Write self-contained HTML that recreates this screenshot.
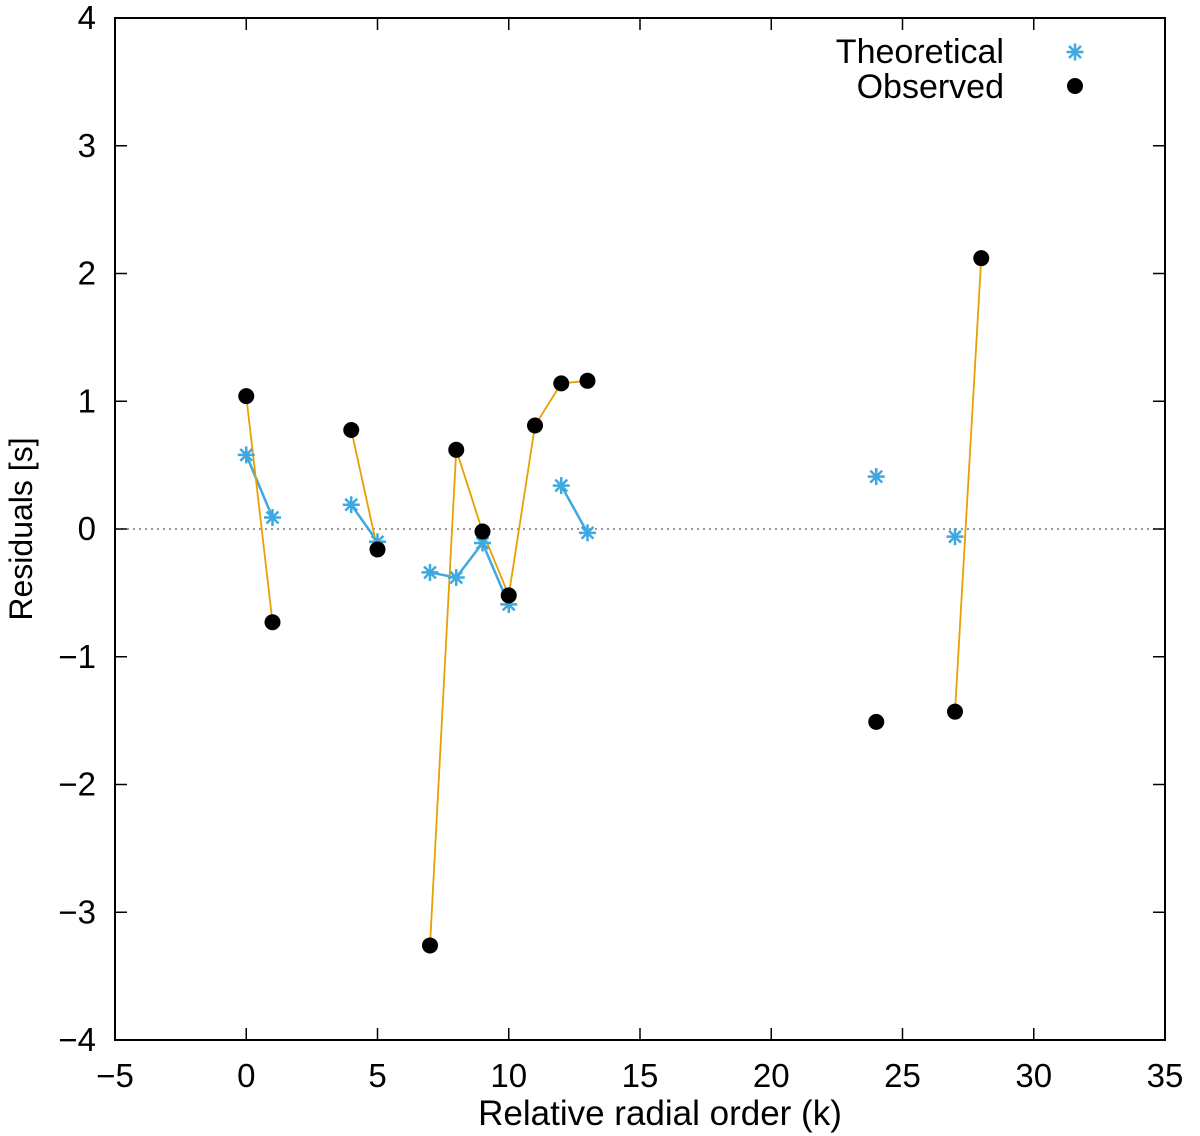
<!DOCTYPE html>
<html><head><meta charset="utf-8"><style>
html,body{margin:0;padding:0;background:#fff}
svg{display:block;font-family:"Liberation Sans",sans-serif}
</style></head><body>
<svg id="chart" width="1200" height="1136" viewBox="0 0 1200 1136" xmlns="http://www.w3.org/2000/svg"></svg>
<script>
const xTicks=[-5,0,5,10,15,20,25,30,35];
const yTicks=[-4,-3,-2,-1,0,1,2,3,4];
const yTickLabels=["\u22124","\u22123","\u22122","\u22121","0","1","2","3","4"];
const xTickLabels=["\u22125","0","5","10","15","20","25","30","35"];
const obsK=[0,1,null,4,5,null,7,8,9,10,11,12,13,null,24,null,27,28];
const obsY=[1.04,-0.73,null,0.775,-0.16,null,-3.26,0.62,-0.02,-0.52,0.81,1.14,1.16,null,-1.51,null,-1.43,2.12];
const theoK=[0,1,null,4,5,null,7,8,9,10,null,12,13,null,24,null,27];
const theoY=[0.58,0.09,null,0.19,-0.1,null,-0.34,-0.38,-0.11,-0.59,null,0.34,-0.03,null,0.41,null,-0.06];

const L=115,R=1165,T=18,B=1040;
const sx=v=>L+(v+5)/40*(R-L);
const sy=v=>B-(v+4)/8*(B-T);
const svg=document.getElementById('chart');
const NS='http://www.w3.org/2000/svg';
function mk(tag,attrs,parent){const e=document.createElementNS(NS,tag);for(const k in attrs)e.setAttribute(k,attrs[k]);(parent||svg).appendChild(e);return e;}

let z=mk('line',{x1:L,x2:R,y1:sy(0),y2:sy(0),stroke:'#777','stroke-width':1.5,'stroke-dasharray':'2,4'});



xTicks.forEach((t,i)=>{
  const x=sx(t);
  const g=mk('g',{});
  
  
  mk('line',{x1:x,x2:x,y1:B,y2:B-12,stroke:'#000','stroke-width':1.5},g);
  mk('line',{x1:x,x2:x,y1:T,y2:T+12,stroke:'#000','stroke-width':1.5},g);
  const tx=mk('text',{x:x,y:1087,'font-size':33,'text-anchor':'middle'},g);tx.textContent=xTickLabels[i];
});
yTicks.forEach((t,i)=>{
  const y=sy(t);
  const g=mk('g',{});
  
  
  mk('line',{x1:L,x2:L+12,y1:y,y2:y,stroke:'#000','stroke-width':1.5},g);
  mk('line',{x1:R,x2:R-12,y1:y,y2:y,stroke:'#000','stroke-width':1.5},g);
  const tx=mk('text',{x:96,y:y+11,'font-size':33,'text-anchor':'end'},g);tx.textContent=yTickLabels[i];
});

let fr=mk('rect',{x:L,y:T,width:R-L,height:B-T,fill:'none',stroke:'#000','stroke-width':2});



let xt=mk('text',{x:660,y:1125,'font-size':35,'text-anchor':'middle'});xt.textContent='Relative radial order (k)';


let yt=mk('text',{x:32,y:529,'font-size':32,'text-anchor':'middle',transform:'rotate(-90 32 529)'});yt.textContent='Residuals [s]';



function pathFor(ks,ys){let d='',pen=false;ks.forEach((k,i)=>{if(k===null){pen=false;return;}d+=(pen?'L':'M')+sx(k)+' '+sy(ys[i])+' ';pen=true;});return d;}

let tl=mk('path',{d:pathFor(theoK,theoY),fill:'none',stroke:'#3ea8e0','stroke-width':2.5});


let ol=mk('path',{d:pathFor(obsK,obsY),fill:'none',stroke:'#e8a000','stroke-width':1.8});



function star(x,y,name){
  const g=mk('g',{stroke:'#3ea8e0','stroke-width':2.5});
  
  
  const r=8.5;
  mk('line',{x1:x-r,x2:x+r,y1:y,y2:y},g);
  mk('line',{x1:x,x2:x,y1:y-r,y2:y+r},g);
  mk('line',{x1:x-r*0.7,x2:x+r*0.7,y1:y-r*0.7,y2:y+r*0.7},g);
  mk('line',{x1:x-r*0.7,x2:x+r*0.7,y1:y+r*0.7,y2:y-r*0.7},g);
}
theoK.forEach((k,i)=>{if(k===null)return;star(sx(k),sy(theoY[i]),'theoretical-point');});
obsK.forEach((k,i)=>{if(k===null)return;
  const c=mk('circle',{cx:sx(k),cy:sy(obsY[i]),r:8,fill:'#000'});
  
  
});

const lg=mk('g',{});


let l1=mk('text',{x:1004,y:63,'font-size':34,'text-anchor':'end'},lg);l1.textContent='Theoretical';
let l2=mk('text',{x:1004,y:98,'font-size':34,'text-anchor':'end'},lg);l2.textContent='Observed';
star(1075,52,'legend-theoretical-marker');
let lc=mk('circle',{cx:1075,cy:86,r:8,fill:'#000'},lg);


</script>
</body></html>
